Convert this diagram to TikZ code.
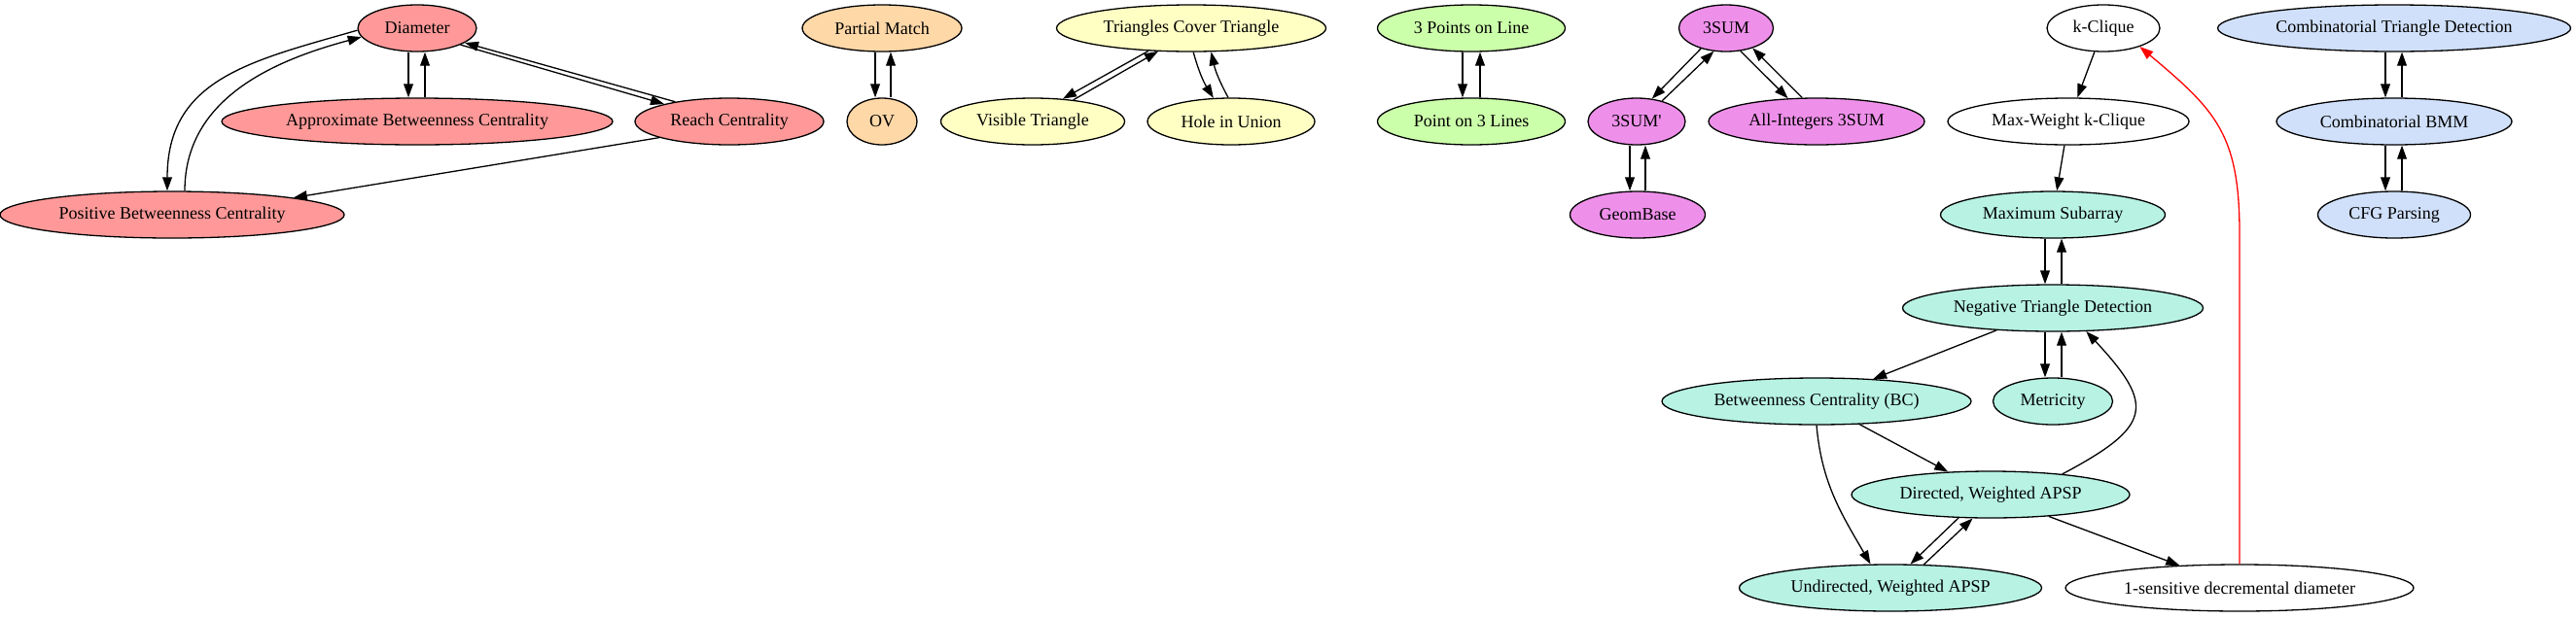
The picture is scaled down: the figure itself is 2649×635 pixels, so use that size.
\documentclass[tikz,border=0pt]{standalone}
\usepackage{fontspec}
\setmainfont{Liberation Serif}
\usetikzlibrary{arrows.meta, shapes.geometric}
\definecolor{cdiam}{HTML}{FF9999}
\definecolor{cpm}{HTML}{FFD8A8}
\definecolor{ctri}{HTML}{FFFFC4}
\definecolor{cpts}{HTML}{CCFFAA}
\definecolor{csum}{HTML}{EE90EA}
\definecolor{capsp}{HTML}{B7F2E3}
\definecolor{cbmm}{HTML}{D0E0FA}
\newcommand{\drawa}{\draw[->]}

\begin{document}
\begin{tikzpicture}[x=1pt, y=1pt, line width=1.3pt, >={Triangle[length=14pt,width=9.8pt]},
  bai/.style={ellipse, draw, inner sep=0pt, minimum height=48pt, font=\fontsize{18}{20}\selectfont}]
\useasboundingbox (0,0) rectangle (2649,-635);

% Vẽ nhóm Diameter
\node[bai, fill=cdiam, minimum width=122pt] (Diam) at (429,-29) {Diameter};
\node[bai, fill=cdiam, minimum width=402pt] (ABC) at (429,-125) {Approximate Betweenness Centrality};
\node[bai, fill=cdiam, minimum width=194pt] (Reach) at (750,-125) {Reach Centrality};
\node[bai, fill=cdiam, minimum width=354pt] (PBC) at (177,-221) {Positive Betweenness Centrality};

% Vẽ nhóm OV
\node[bai, fill=cpm, minimum width=164pt] (PM) at (907,-29) {Partial Match};
\node[bai, fill=cpm, minimum width=72pt] (OV) at (907,-125) {OV};

% Vẽ nhóm tam giác
\node[bai, fill=ctri, minimum width=277pt] (TCT) at (1225,-29) {Triangles Cover Triangle};
\node[bai, fill=ctri, minimum width=189pt] (VT) at (1062,-125) {Visible Triangle};
\node[bai, fill=ctri, minimum width=172pt] (HiU) at (1266,-125) {Hole in Union};
\node[bai, fill=cpts, minimum width=193pt] (TPL) at (1513,-29) {3 Points on Line};
\node[bai, fill=cpts, minimum width=193pt] (PTL) at (1513,-125) {Point on 3 Lines};

% Vẽ nhóm 3SUM
\node[bai, fill=csum, minimum width=97pt] (S3) at (1775,-29) {3SUM};
\node[bai, fill=csum, minimum width=100pt] (S3p) at (1683,-125) {3SUM\textquotesingle};
\node[bai, fill=csum, minimum width=222pt] (AI) at (1868,-125) {All-Integers 3SUM};
\node[bai, fill=csum, minimum width=139pt] (GB) at (1684,-221) {GeomBase};

% Vẽ nhóm APSP
\node[bai, fill=white, minimum width=116pt] (KC) at (2163,-29) {k-Clique};
\node[bai, fill=white, minimum width=248pt] (MWK) at (2127,-125) {Max-Weight k-Clique};
\node[bai, fill=capsp, minimum width=231pt] (MS) at (2111,-221) {Maximum Subarray};
\node[bai, fill=capsp, minimum width=309pt] (NTD) at (2111,-317) {Negative Triangle Detection};
\node[bai, fill=capsp, minimum width=318pt] (BC) at (1868,-413) {Betweenness Centrality (BC)};
\node[bai, fill=capsp, minimum width=123pt] (Met) at (2111,-413) {Metricity};
\node[bai, fill=capsp, minimum width=286pt] (DA) at (2047,-509) {Directed, Weighted APSP};
\node[bai, fill=capsp, minimum width=311pt] (UA) at (1944,-605) {Undirected, Weighted APSP};
\node[bai, fill=white, minimum width=358pt] (OS) at (2303,-605) {1-sensitive decremental diameter};

% Vẽ nhóm BMM
\node[bai, fill=cbmm, minimum width=363pt] (CTD) at (2462,-29) {Combinatorial Triangle Detection};
\node[bai, fill=cbmm, minimum width=242pt] (CB) at (2462,-125) {Combinatorial BMM};
\node[bai, fill=cbmm, minimum width=157pt] (CFG) at (2462,-221) {CFG Parsing};

% Các mũi tên
\drawa ([xshift=-9]Diam.south) -- ([xshift=-9]ABC.north);
\drawa ([xshift=8]ABC.north) -- ([xshift=8]Diam.south);
\drawa (Diam.-21) -- (Reach.165);
\drawa (Reach.160) -- (Diam.-17);
\drawa (Diam.182) to[out=196,in=90,looseness=1.15] ([xshift=-5]PBC.north);
\drawa ([xshift=13]PBC.north) to[out=90,in=195] (Diam.189);
\drawa (Reach.193) -- (PBC.8);

\drawa ([xshift=-7]PM.south) -- ([xshift=-7]OV.north);
\drawa ([xshift=9]OV.north) -- ([xshift=9]PM.south);

\drawa (TCT.208) -- (VT.37);
\drawa (VT.28) -- (TCT.215);
\drawa (TCT.275) to[bend right=8] (HiU.127);
\drawa (HiU.97) to[bend left=8] (TCT.310);
\drawa ([xshift=-9]TPL.south) -- ([xshift=-9]PTL.north);
\drawa ([xshift=9]PTL.north) -- ([xshift=9]TPL.south);

\drawa (S3.219) -- (S3p.56);
\drawa (S3p.39) -- (S3.242);
\drawa (S3.302) -- (AI.141);
\drawa (AI.121) -- (S3.323);
\drawa ([xshift=-7]S3p.south) -- ([xshift=-8]GB.north);
\drawa ([xshift=8]GB.north) -- ([xshift=9]S3p.south);

\drawa (KC) -- (MWK);
\drawa (MWK) -- (MS);
\drawa ([xshift=-8]MS.south) -- ([xshift=-8]NTD.north);
\drawa ([xshift=9]NTD.north) -- ([xshift=9]MS.south);
\drawa ([xshift=-8]NTD.south) -- ([xshift=-8]Met.north);
\drawa ([xshift=9]Met.north) -- ([xshift=9]NTD.south);
\drawa (NTD) -- (BC);
\drawa (BC) -- (DA);
\drawa (BC.south) to[out=-85,in=120] (UA.130);
\drawa (DA.16) to[out=28,in=-47,looseness=1.8] (NTD.325);
\drawa (DA.216) -- (UA.50);
\drawa (UA.35) -- (DA.233);
\drawa (DA) -- (OS);
\draw[->, red] (OS.north) -- ++(0,340) to[out=90,in=-40,looseness=1.2] (KC.333);

\drawa ([xshift=-9]CTD.south) -- ([xshift=-9]CB.north);
\drawa ([xshift=8]CB.north) -- ([xshift=8]CTD.south);
\drawa ([xshift=-9]CB.south) -- ([xshift=-9]CFG.north);
\drawa ([xshift=8]CFG.north) -- ([xshift=8]CB.south);

\end{tikzpicture}
\end{document}
